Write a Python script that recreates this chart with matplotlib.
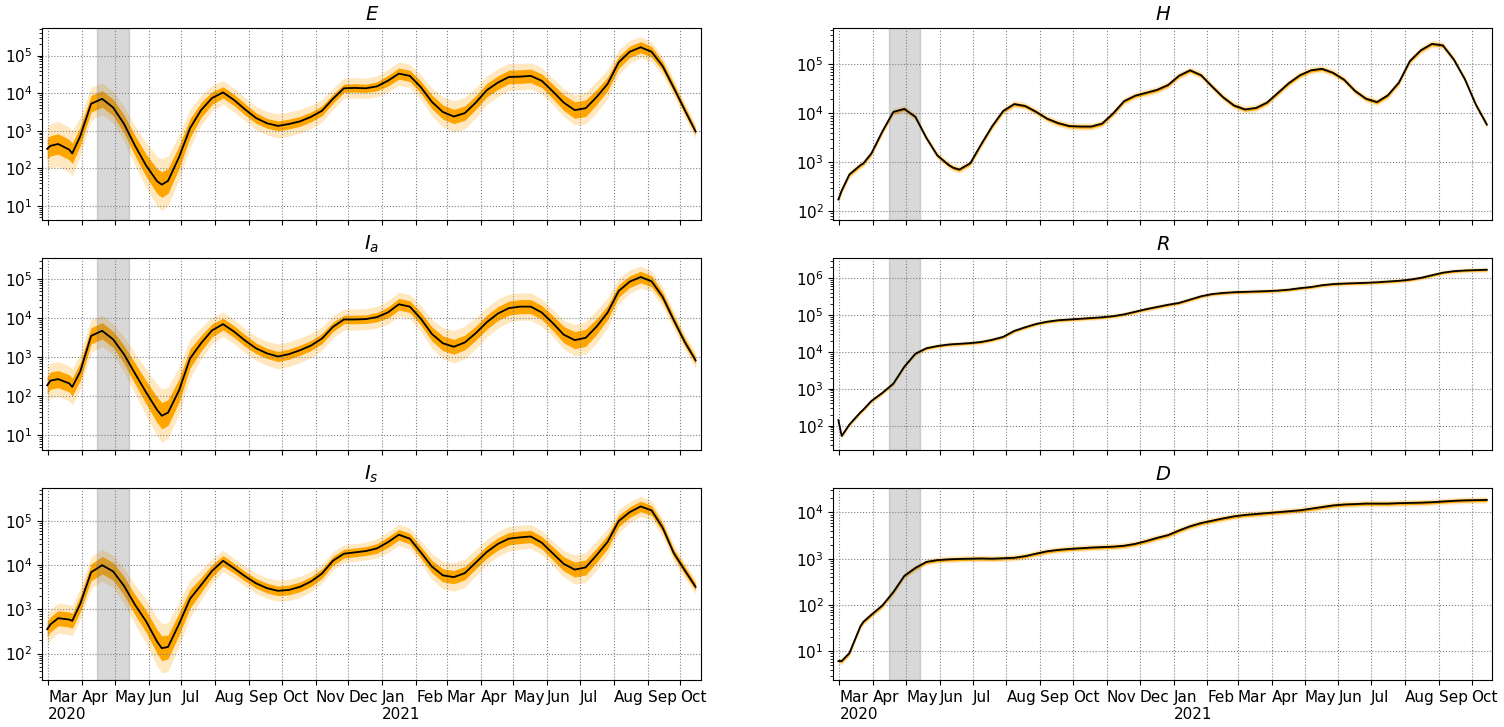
import numpy as np
import pandas as pd
import matplotlib
matplotlib.use('Agg')
import matplotlib.pyplot as plt
import matplotlib.dates as mdates
from matplotlib.ticker import FuncFormatter

# sample dates (every ~10 days) plus a few extra points at sharp features
dates = pd.date_range('2020-02-29', '2021-10-15', periods=60).union(
    pd.to_datetime(['2020-03-03', '2020-03-23', '2020-06-13']))

# medians, log10 units
e_log = [2.52, 2.60, 2.65, 2.50, 2.40, 2.85, 3.72, 3.85, 3.62, 3.18,
         2.60, 2.08, 1.66, 1.57, 1.67, 2.30, 3.07, 3.55, 3.87, 4.02,
         3.82, 3.57, 3.34, 3.20, 3.13, 3.18, 3.25, 3.37, 3.53, 3.85,
         4.13, 4.14, 4.13, 4.18, 4.33, 4.52, 4.46, 4.16, 3.77, 3.50,
         3.38, 3.47, 3.75, 4.08, 4.28, 4.43, 4.44, 4.46, 4.33, 4.05,
         3.75, 3.55, 3.60, 3.90, 4.25, 4.82, 5.10, 5.22, 5.10, 4.72,
         4.15, 3.56, 2.98]
ia_log = [2.28, 2.40, 2.44, 2.33, 2.24, 2.63, 3.55, 3.68, 3.46, 3.07,
          2.58, 2.10, 1.65, 1.50, 1.58, 2.15, 2.97, 3.36, 3.69, 3.85,
          3.66, 3.43, 3.23, 3.10, 3.02, 3.08, 3.18, 3.30, 3.48, 3.78,
          3.97, 3.97, 3.98, 4.03, 4.15, 4.36, 4.30, 3.99, 3.60, 3.36,
          3.27, 3.38, 3.62, 3.90, 4.12, 4.26, 4.30, 4.30, 4.15, 3.88,
          3.58, 3.44, 3.50, 3.79, 4.15, 4.70, 4.94, 5.06, 4.95, 4.55,
          3.96, 3.40, 2.92]
is_log = [2.55, 2.66, 2.80, 2.77, 2.74, 3.12, 3.84, 4.00, 3.86, 3.53,
          3.10, 2.73, 2.27, 2.12, 2.15, 2.67, 3.24, 3.55, 3.87, 4.10,
          3.93, 3.75, 3.59, 3.48, 3.42, 3.44, 3.51, 3.63, 3.81, 4.10,
          4.26, 4.29, 4.32, 4.38, 4.52, 4.69, 4.60, 4.29, 3.97, 3.77,
          3.73, 3.82, 4.06, 4.30, 4.48, 4.60, 4.63, 4.65, 4.51, 4.27,
          4.03, 3.90, 3.95, 4.23, 4.53, 5.00, 5.20, 5.33, 5.24, 4.85,
          4.28, 3.89, 3.51]
h_log = [2.24, 2.42, 2.75, 2.94, 2.98, 3.18, 3.63, 4.03, 4.09, 3.93,
         3.50, 3.14, 2.95, 2.89, 2.85, 2.98, 3.37, 3.74, 4.05, 4.19,
         4.15, 4.03, 3.89, 3.80, 3.74, 3.73, 3.73, 3.79, 4.00, 4.25,
         4.36, 4.42, 4.48, 4.58, 4.77, 4.88, 4.78, 4.55, 4.33, 4.16,
         4.08, 4.11, 4.22, 4.42, 4.62, 4.78, 4.88, 4.91, 4.83, 4.69,
         4.46, 4.30, 4.23, 4.37, 4.63, 5.07, 5.29, 5.42, 5.39, 5.10,
         4.70, 4.18, 3.77]
r_log = [2.15, 1.72, 2.03, 2.36, 2.44, 2.67, 2.89, 3.14, 3.60, 3.95,
         4.10, 4.16, 4.20, 4.21, 4.22, 4.24, 4.27, 4.33, 4.41, 4.57,
         4.67, 4.76, 4.82, 4.86, 4.88, 4.90, 4.92, 4.94, 4.97, 5.02,
         5.09, 5.16, 5.22, 5.28, 5.33, 5.42, 5.51, 5.57, 5.60, 5.62,
         5.63, 5.64, 5.65, 5.665, 5.69, 5.73, 5.76, 5.81, 5.84, 5.855,
         5.865, 5.875, 5.89, 5.91, 5.93, 5.96, 6.01, 6.08, 6.15, 6.19,
         6.21, 6.22, 6.23]
d_log = [0.79, 0.79, 0.96, 1.54, 1.64, 1.79, 1.99, 2.28, 2.63, 2.80,
         2.93, 2.97, 2.985, 2.99, 2.995, 3.00, 3.005, 3.00, 3.01, 3.02,
         3.055, 3.11, 3.16, 3.19, 3.21, 3.225, 3.24, 3.25, 3.26, 3.28,
         3.32, 3.38, 3.45, 3.51, 3.61, 3.70, 3.77, 3.82, 3.87, 3.915,
         3.945, 3.965, 3.985, 4.005, 4.025, 4.045, 4.08, 4.115, 4.15, 4.17,
         4.18, 4.19, 4.19, 4.19, 4.20, 4.205, 4.21, 4.22, 4.235, 4.25,
         4.26, 4.265, 4.27]

# band half-widths in log10 units (inner = dark orange, outer = light)
e_in = [.27, .27, .27, .27, .27, .25, .22, .22, .22, .24,
        .27, .30, .33, .34, .33, .30, .25, .20, .17, .15,
        .15, .15, .14, .13, .13, .13, .13, .13, .13, .12,
        .11, .11, .11, .12, .14, .15, .15, .16, .18, .19,
        .19, .19, .18, .18, .18, .18, .18, .18, .18, .19,
        .21, .22, .22, .20, .18, .16, .15, .15, .14, .12,
        .11, .10, .09]
e_out = [.58, .58, .60, .60, .60, .52, .44, .42, .42, .46,
         .52, .60, .66, .68, .66, .60, .50, .40, .34, .31,
         .31, .31, .31, .31, .32, .32, .32, .31, .30, .28,
         .27, .27, .27, .28, .30, .31, .31, .33, .37, .40,
         .42, .42, .40, .38, .37, .36, .35, .35, .35, .35,
         .37, .40, .42, .42, .38, .33, .30, .28, .26, .25,
         .22, .20, .19]
ia_in = [.22, .22, .22, .22, .23, .23, .21, .21, .21, .23,
         .27, .30, .33, .34, .33, .30, .25, .20, .17, .15,
         .15, .15, .14, .13, .13, .13, .13, .13, .13, .12,
         .11, .11, .11, .12, .14, .15, .15, .16, .18, .19,
         .19, .19, .18, .18, .18, .18, .18, .18, .18, .19,
         .21, .22, .22, .20, .18, .16, .15, .15, .14, .12,
         .11, .10, .09]
ia_out = [.45, .45, .45, .45, .46, .46, .42, .40, .40, .45,
          .52, .60, .66, .68, .66, .60, .50, .40, .34, .31,
          .31, .31, .31, .31, .32, .32, .32, .31, .30, .28,
          .27, .27, .27, .28, .30, .31, .31, .33, .37, .40,
          .42, .42, .40, .38, .37, .36, .35, .35, .35, .35,
          .37, .40, .42, .42, .38, .33, .30, .28, .26, .25,
          .22, .20, .19]
is_in = [.17, .17, .17, .17, .17, .18, .19, .20, .20, .21,
         .23, .25, .27, .28, .27, .25, .21, .17, .14, .12,
         .11, .11, .11, .11, .11, .11, .11, .11, .11, .10,
         .10, .10, .10, .11, .12, .12, .12, .13, .14, .15,
         .15, .15, .14, .14, .14, .14, .14, .14, .14, .15,
         .16, .17, .17, .16, .15, .13, .12, .12, .11, .10,
         .09, .09, .08]
is_out = [.34, .34, .34, .34, .34, .36, .36, .36, .36, .40,
          .45, .50, .55, .56, .55, .50, .42, .34, .28, .24,
          .23, .23, .23, .23, .24, .24, .24, .23, .22, .21,
          .20, .20, .20, .22, .24, .24, .24, .26, .29, .31,
          .32, .32, .30, .29, .28, .28, .27, .27, .27, .28,
          .30, .33, .34, .33, .30, .26, .24, .23, .22, .20,
          .18, .17, .16]
h_in, h_out = 0.035, 0.075
r_in, r_out = 0.03, 0.065
d_in, d_out = 0.035, 0.07

lockdown = ('2020-04-15', '2020-05-14')

fig, axes = plt.subplots(3, 2, figsize=(15.04, 7.27), dpi=100, sharex=True)
plt.subplots_adjust(left=0.0281, right=0.9922, top=0.9611, bottom=0.0646,
                    wspace=0.201, hspace=0.2)

panels = [
    (axes[0, 0], r'$E$', e_log, e_in, e_out, (0.63, 5.725)),
    (axes[1, 0], r'$I_a$', ia_log, ia_in, ia_out, (0.62, 5.54)),
    (axes[2, 0], r'$I_s$', is_log, is_in, is_out, (1.40, 5.74)),
    (axes[0, 1], r'$H$', h_log, h_in, h_out, (1.82, 5.74)),
    (axes[1, 1], r'$R$', r_log, r_in, r_out, (1.34, 6.54)),
    (axes[2, 1], r'$D$', d_log, d_in, d_out, (0.38, 4.52)),
]

for ax, title, med, w_in, w_out, ylim in panels:
    med = np.array(med)
    w_in = np.array(w_in)
    w_out = np.array(w_out)
    ax.fill_between(dates, 10 ** (med - w_out), 10 ** (med + w_out),
                    color='orange', alpha=0.25, lw=0)
    ax.fill_between(dates, 10 ** (med - w_in), 10 ** (med + w_in),
                    color='orange', alpha=1.0, lw=0)
    ax.plot(dates, 10 ** med, color='black', lw=1.3)
    ax.axvspan(pd.Timestamp(lockdown[0]), pd.Timestamp(lockdown[1]),
               color='gray', alpha=0.3)
    ax.set_yscale('log')
    ax.set_ylim(10 ** ylim[0], 10 ** ylim[1])
    ax.set_title(title, fontsize=14)
    ax.grid(True, linestyle=':', color='gray', linewidth=0.8)
    ax.tick_params(labelsize=11)


def month_label(x, pos):
    d = mdates.num2date(x)
    if pos == 0 or d.month == 1:
        return d.strftime('%b\n%Y')
    return d.strftime('%b')


ax0 = axes[2, 0]
ax0.set_xlim(pd.Timestamp('2020-02-24 12:00'), pd.Timestamp('2021-10-20'))
ax0.xaxis.set_major_locator(mdates.MonthLocator())
ax0.xaxis.set_major_formatter(FuncFormatter(month_label))
for ax in axes[2]:
    plt.setp(ax.get_xticklabels(), ha='left')

fig.savefig('out.png', dpi=100)
